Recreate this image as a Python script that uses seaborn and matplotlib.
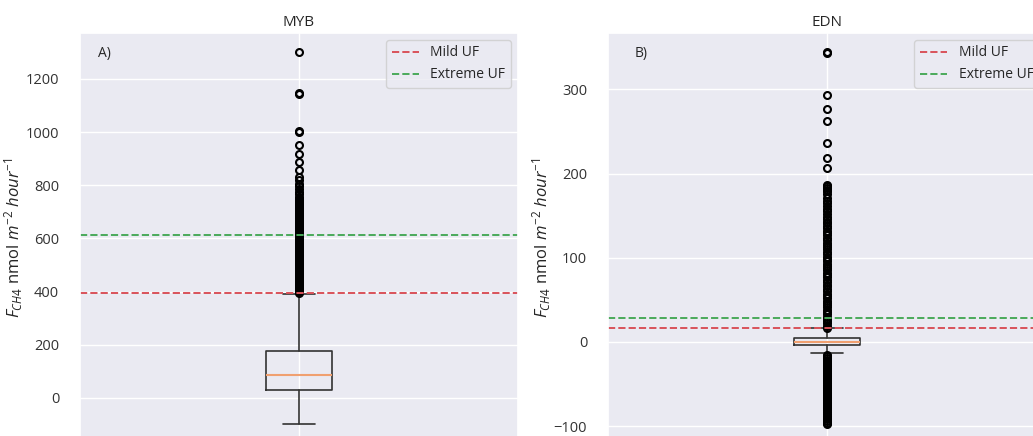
import matplotlib
matplotlib.use("Agg")
import matplotlib.pyplot as plt
import seaborn as sns

# ---------------- data ----------------
titles = ["MYB", "EDN"]
panel_tags = ["A)", "B)"]
legend_labels = ["Mild UF", "Extreme UF"]

# MYB box statistics
myb_q1, myb_med, myb_q3 = 31, 84, 176
myb_whislo, myb_whishi = -100, 391
myb_mild_uf, myb_extreme_uf = 393.5, 611
myb_fliers = [1303, 1149, 1142, 1004, 1001, 953, 917, 888, 859, 831, 819, 806,
              797, 787, 775, 766, 756,
              750, 746, 742, 737, 733, 728, 724, 719, 715, 711, 706, 702, 697,
              693, 688, 684, 679, 675, 671, 666, 662, 657, 653, 648, 644, 640,
              635, 631, 626, 622, 617, 613, 609, 604, 600, 595, 591, 586, 582,
              578, 573, 569, 564, 560, 555, 551, 547, 542, 538, 533, 529, 524,
              520, 516, 511, 507, 502, 498, 493, 489, 485, 480, 476, 471, 467,
              462, 458, 454, 449, 445, 440, 436, 431, 427, 423, 418, 414, 409,
              405, 401, 397, 394]

# EDN box statistics
edn_q1, edn_med, edn_q3 = -3.2, 0.4, 4.7
edn_whislo, edn_whishi = -13, 16
edn_mild_uf, edn_extreme_uf = 16.6, 28.4
edn_fliers = [345, 343, 293, 277, 263, 237, 218, 207,
              187, 185, 183, 181, 179, 176, 171, 168, 165, 162, 158, 155, 152,
              149, 146, 143, 141, 138, 135, 132, 129, 127, 124, 121, 118, 115,
              113, 110, 107, 104, 101, 99, 96, 93, 90, 88, 85, 82, 79, 77, 74,
              71, 68, 66, 63, 60, 57, 55, 52, 49, 46, 44, 41, 38, 35, 33, 30,
              27, 25, 22, 19, 17,
              -15, -17, -19, -21, -23, -25, -27, -29, -31, -33, -35, -37, -39,
              -41, -43, -45, -47, -49, -51, -53, -55, -57, -59, -61, -63, -65,
              -67, -69, -71, -73, -75, -77, -79, -81, -83, -86, -88, -90, -92,
              -94, -96, -98]

# ---------------- style ----------------
sns.set_theme(style="darkgrid")
plt.rcParams["font.family"] = ["Open Sans", "DejaVu Sans"]
plt.rcParams["mathtext.fontset"] = "custom"
plt.rcParams["mathtext.rm"] = "Open Sans"
plt.rcParams["mathtext.it"] = "Open Sans:italic"
plt.rcParams["mathtext.bf"] = "Open Sans:bold"

W, H = 1033, 436
fig = plt.figure(figsize=(W / 100, H / 100), dpi=100)

ax_left_px = [80, 608]
ax_w, ax_top, ax_bot = 438, 33, 443
axes = [fig.add_axes([l / W, (H - ax_bot) / H, ax_w / W, (ax_bot - ax_top) / H])
        for l in ax_left_px]

stats_all = [
    dict(q1=myb_q1, med=myb_med, q3=myb_q3, whislo=myb_whislo,
         whishi=myb_whishi, fliers=myb_fliers, label=""),
    dict(q1=edn_q1, med=edn_med, q3=edn_q3, whislo=edn_whislo,
         whishi=edn_whishi, fliers=edn_fliers, label=""),
]
thresholds = [(myb_mild_uf, myb_extreme_uf), (edn_mild_uf, edn_extreme_uf)]
tag_x = [0.04, 0.06]

for ax, st, (mild, extreme), title, tag, tx in zip(axes, stats_all, thresholds,
                                                   titles, panel_tags, tag_x):
    ax.bxp([st], widths=0.15, showfliers=True,
           boxprops=dict(color="#333333", linewidth=1.2),
           whiskerprops=dict(color="#333333", linewidth=1.2),
           capprops=dict(color="#333333", linewidth=1.2),
           medianprops=dict(color="#f0a070", linewidth=1.5),
           flierprops=dict(marker="o", markerfacecolor="none",
                           markeredgecolor="black", markersize=5,
                           markeredgewidth=1.5))
    ax.axhline(mild, color="#d9525a", linestyle="--", linewidth=1.4,
               label=legend_labels[0])
    ax.axhline(extreme, color="#4aaa5a", linestyle="--", linewidth=1.4,
               label=legend_labels[1])
    ax.set_xlim(0.5, 1.5)
    ax.set_title(title, fontsize=11, pad=5, color="#262626")
    ax.set_ylabel(r"$F_{CH4}$ nmol $m^{-2}$ $hour^{-1}$", fontsize=12,
                  color="#262626")
    ax.yaxis.set_label_coords(-0.125, 0.5)
    ax.tick_params(axis="y", labelsize=10.5, pad=9, colors="#333333")
    ax.tick_params(axis="x", labelsize=10.5)
    ax.text(tx, 0.95, tag, transform=ax.transAxes, fontsize=10,
            va="center", ha="left", color="#262626")
    ax.legend(loc="upper right", fontsize=10)

fig.savefig("out.png", dpi=100)
